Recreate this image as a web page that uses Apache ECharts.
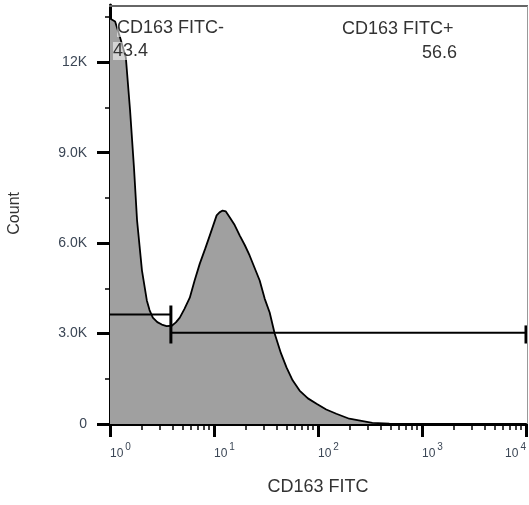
<!DOCTYPE html>
<html>
<head>
<meta charset="utf-8">
<script src="https://cdn.jsdelivr.net/npm/echarts@6/dist/echarts.min.js"></script>
<style>
  html, body { margin: 0; padding: 0; background: #fff; }
  #main { width: 529px; height: 505px; }
</style>
</head>
<body>
<div id="main"></div>
<script>
// 直方图数据 (CD163 FITC 荧光强度, 计数)
var histX = [1, 1.12, 1.25, 1.42, 1.56, 1.70, 1.82, 2.03, 2.26, 2.4, 2.58, 2.85, 3.15, 3.5, 3.93, 4.3, 4.69, 5.2, 5.85, 6.5, 7.30, 8.2, 9.10, 10.6, 11.3, 12.1, 13.0, 14.2, 15.8, 17.7, 19.8, 22.0, 27.5, 30.7, 34.3, 38.3, 44, 49.9, 57, 66.5, 80, 96.8, 120, 150, 200, 333, 485, 706, 10000];
var histY = [13450, 13350, 12820, 12160, 10400, 8510, 6760, 5090, 4100, 3780, 3530, 3380, 3300, 3250, 3260, 3370, 3530, 3820, 4190, 4750, 5320, 5800, 6250, 6920, 7020, 7080, 7050, 6850, 6600, 6250, 5930, 5590, 4760, 4160, 3700, 3000, 2350, 1870, 1450, 1110, 850, 670, 480, 340, 175, 40, 10, 0, 0];

// 门 (gate)
var gateSplit = 3.85;
var gateNegY = 3630;
var gatePosY = 3030;

// 坐标范围
var xMin = 1, xMax = 10000;
var yMax = 13900;

// 刻度
var yMajorTicks = [0, 3000, 6000, 9000, 12000];
var yMinorTicks = [1500, 4500, 7500, 10500, 13500];
var xMajorTicks = [1, 10, 100, 1000, 10000];
var xMinorTicks = [];
for (var d = 0; d < 4; d++) {
  for (var k = 2; k <= 9; k++) {
    xMinorTicks.push(k * Math.pow(10, d));
  }
}

var histData = [];
for (var i = 0; i < histX.length; i++) {
  histData.push([histX[i], histY[i]]);
}

var textColor = '#333';
var tickColor = '#3b4655';

var chart = echarts.init(document.getElementById('main'));
var option = {
  animation: false,
  textStyle: { fontFamily: 'Liberation Sans, Arial, sans-serif' },
  grid: {
    left: 110, right: 2, top: 5, bottom: 81
  },
  xAxis: [{
    type: 'log',
    logBase: 10,
    min: xMin,
    max: xMax,
    name: 'CD163 FITC',
    nameLocation: 'middle',
    nameGap: 54,
    nameTextStyle: { fontSize: 18, color: textColor },
    axisLine: { show: true, onZero: false, lineStyle: { color: '#000', width: 3 } },
    axisTick: { show: true, customValues: xMajorTicks, length: 13, lineStyle: { color: '#000', width: 3 } },
    splitLine: { show: false },
    minorTick: { show: false },
    axisLabel: {
      customValues: xMajorTicks,
      margin: 18,
      align: 'left',
      alignMaxLabel: 'right',
      formatter: function (value, index) {
        var e = Math.round(Math.log(value) / Math.LN10);
        if (index === 0) return '{p|}{b|10}{s|' + e + '}';
        return '{b|10}{s|' + e + '}';
      },
      rich: {
        p: { width: 7 },
        b: { fontSize: 12, color: tickColor, lineHeight: 18, verticalAlign: 'bottom' },
        s: { fontSize: 10, color: tickColor, lineHeight: 18, verticalAlign: 'top', padding: [0, 0, 0, 2] }
      }
    }
  }, {
    // 次刻度
    type: 'log',
    logBase: 10,
    min: xMin,
    max: xMax,
    position: 'bottom',
    axisLine: { show: false },
    axisTick: { show: true, customValues: xMinorTicks, length: 6, lineStyle: { color: '#000', width: 1.5 } },
    axisLabel: { show: false },
    splitLine: { show: false }
  }],
  yAxis: [{
    type: 'value',
    min: 0,
    max: yMax,
    axisLine: { show: true, onZero: false, lineStyle: { color: '#000', width: 3 } },
    axisTick: { show: true, customValues: yMajorTicks, length: 13, lineStyle: { color: '#000', width: 3 } },
    splitLine: { show: false },
    axisLabel: {
      customValues: yMajorTicks,
      margin: 23,
      fontSize: 14,
      color: tickColor,
      formatter: function (v) {
        if (v === 0) return '0';
        if (v >= 10000) return (v / 1000).toFixed(0) + 'K';
        return (v / 1000).toFixed(1) + 'K';
      }
    }
  }, {
    // 次刻度
    type: 'value',
    min: 0,
    max: yMax,
    position: 'left',
    axisLine: { show: false },
    axisTick: { show: true, customValues: yMinorTicks, length: 5, lineStyle: { color: '#000', width: 1.5 } },
    axisLabel: { show: false },
    splitLine: { show: false }
  }],
  graphic: [
    // 图框 (上边和右边)
    { type: 'line', z: 100, silent: true,
      shape: { x1: 109, y1: 6, x2: 528, y2: 6 },
      style: { stroke: '#666666', lineWidth: 2 } },
    { type: 'line', z: 100, silent: true,
      shape: { x1: 527.5, y1: 6, x2: 527.5, y2: 424 },
      style: { stroke: '#999999', lineWidth: 1 } },
    { type: 'text', left: 15 - 8, top: 215 - 23, rotation: Math.PI / 2,
      style: { text: 'Count', fontSize: 16, fill: textColor, fontFamily: 'Liberation Sans' } },
    { type: 'text', x: 117, y: 19, z: 10,
      style: { text: 'CD163 FITC-', fontSize: 18, fill: textColor, fontFamily: 'Liberation Sans', backgroundColor: 'rgba(255,255,255,0.55)' } },
    { type: 'text', x: 113, y: 42, z: 10,
      style: { text: '43.4', fontSize: 18, fill: textColor, fontFamily: 'Liberation Sans', backgroundColor: 'rgba(255,255,255,0.55)' } },
    { type: 'text', x: 342, y: 20, z: 10,
      style: { text: 'CD163 FITC+', fontSize: 18, fill: textColor, fontFamily: 'Liberation Sans' } },
    { type: 'text', x: 457, y: 44, z: 10,
      style: { text: '56.6', fontSize: 18, fill: textColor, fontFamily: 'Liberation Sans', align: 'right' } }
  ],
  series: [{
    name: 'Count',
    type: 'line',
    data: histData,
    symbol: 'none',
    smooth: false,
    lineStyle: { color: '#000', width: 1.8 },
    areaStyle: { color: '#a0a0a0', opacity: 1 },
    z: 2
  }, {
    name: 'CD163 FITC-',
    type: 'line',
    data: [[xMin, gateNegY], [gateSplit, gateNegY]],
    symbol: 'none',
    lineStyle: { color: '#000', width: 2 },
    z: 3
  }, {
    name: 'CD163 FITC+',
    type: 'line',
    data: [[gateSplit, gatePosY], [xMax, gatePosY]],
    symbol: 'none',
    lineStyle: { color: '#000', width: 2 },
    z: 3
  }, {
    type: 'line',
    data: [[gateSplit, 2670], [gateSplit, 3930]],
    symbol: 'none',
    lineStyle: { color: '#000', width: 3 },
    z: 3
  }, {
    type: 'line',
    data: [[xMax, 2670], [xMax, 3270]],
    symbol: 'none',
    clip: false,
    lineStyle: { color: '#000', width: 3 },
    z: 3
  }]
};
chart.setOption(option);
</script>
</body>
</html>
